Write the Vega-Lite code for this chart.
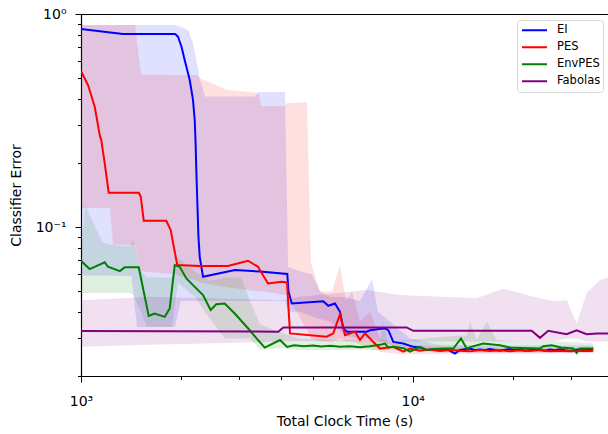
{
  "$schema": "https://vega.github.io/schema/vega-lite/v6.json",
  "width": 527,
  "height": 362,
  "autosize": {"type": "none"},
  "padding": {"left": 81, "top": 14, "right": 0, "bottom": 58},
  "background": "white",
  "config": {
    "view": {"stroke": null},
    "font": "DejaVu Sans",
    "axis": {
      "grid": false,
      "domainColor": "black",
      "domainWidth": 1.2,
      "tickColor": "black",
      "tickWidth": 1,
      "labelFont": "DejaVu Sans",
      "labelFontSize": 14,
      "labelColor": "black",
      "labelFlush": false,
      "labelOverlap": false,
      "titleFont": "DejaVu Sans",
      "titleFontSize": 14,
      "titleFontWeight": "normal",
      "titleColor": "black"
    }
  },
  "datasets": {
    "runs": [
      {"method": "EI", "time": 1000, "error": 0.850},
      {"method": "EI", "time": 1338, "error": 0.806},
      {"method": "EI", "time": 1924, "error": 0.806},
      {"method": "EI", "time": 1961, "error": 0.782},
      {"method": "EI", "time": 2010, "error": 0.70},
      {"method": "EI", "time": 2054, "error": 0.608},
      {"method": "EI", "time": 2127, "error": 0.490},
      {"method": "EI", "time": 2176, "error": 0.395},
      {"method": "EI", "time": 2202, "error": 0.318},
      {"method": "EI", "time": 2214, "error": 0.256},
      {"method": "EI", "time": 2228, "error": 0.18},
      {"method": "EI", "time": 2243, "error": 0.13},
      {"method": "EI", "time": 2260, "error": 0.09},
      {"method": "EI", "time": 2280, "error": 0.0725},
      {"method": "EI", "time": 2333, "error": 0.0584},
      {"method": "EI", "time": 2912, "error": 0.0628},
      {"method": "EI", "time": 3464, "error": 0.0619},
      {"method": "EI", "time": 4187, "error": 0.0602},
      {"method": "EI", "time": 4222, "error": 0.050},
      {"method": "EI", "time": 4317, "error": 0.0438},
      {"method": "EI", "time": 5376, "error": 0.0449},
      {"method": "EI", "time": 5567, "error": 0.0427},
      {"method": "EI", "time": 5831, "error": 0.0438},
      {"method": "EI", "time": 6037, "error": 0.0400},
      {"method": "EI", "time": 6177, "error": 0.0335},
      {"method": "EI", "time": 6324, "error": 0.0323},
      {"method": "EI", "time": 7267, "error": 0.0323},
      {"method": "EI", "time": 7435, "error": 0.0328},
      {"method": "EI", "time": 8253, "error": 0.0335},
      {"method": "EI", "time": 8443, "error": 0.0328},
      {"method": "EI", "time": 8741, "error": 0.0289},
      {"method": "EI", "time": 9368, "error": 0.0284},
      {"method": "EI", "time": 10042, "error": 0.0274},
      {"method": "EI", "time": 10520, "error": 0.0272},
      {"method": "EI", "time": 11022, "error": 0.0265},
      {"method": "EI", "time": 11600, "error": 0.0268},
      {"method": "EI", "time": 12086, "error": 0.0264},
      {"method": "EI", "time": 12700, "error": 0.0267},
      {"method": "EI", "time": 13412, "error": 0.0255},
      {"method": "EI", "time": 13886, "error": 0.0265},
      {"method": "EI", "time": 14884, "error": 0.0269},
      {"method": "EI", "time": 15400, "error": 0.0264},
      {"method": "EI", "time": 15954, "error": 0.0266},
      {"method": "EI", "time": 16500, "error": 0.0264},
      {"method": "EI", "time": 17101, "error": 0.0268},
      {"method": "EI", "time": 17700, "error": 0.0265},
      {"method": "EI", "time": 18330, "error": 0.0263},
      {"method": "EI", "time": 19000, "error": 0.0266},
      {"method": "EI", "time": 19647, "error": 0.0268},
      {"method": "EI", "time": 20300, "error": 0.0264},
      {"method": "EI", "time": 21059, "error": 0.0266},
      {"method": "EI", "time": 21800, "error": 0.0263},
      {"method": "EI", "time": 22573, "error": 0.0265},
      {"method": "EI", "time": 23400, "error": 0.0268},
      {"method": "EI", "time": 24195, "error": 0.0265},
      {"method": "EI", "time": 25000, "error": 0.0263},
      {"method": "EI", "time": 25934, "error": 0.0266},
      {"method": "EI", "time": 26800, "error": 0.0264},
      {"method": "EI", "time": 27798, "error": 0.0267},
      {"method": "EI", "time": 28800, "error": 0.0264},
      {"method": "EI", "time": 29796, "error": 0.0262},
      {"method": "EI", "time": 30800, "error": 0.0265},
      {"method": "EI", "time": 31937, "error": 0.0267},
      {"method": "EI", "time": 33000, "error": 0.0264},
      {"method": "EI", "time": 34233, "error": 0.0266},
      {"method": "EI", "time": 35025, "error": 0.0269},

      {"method": "PES", "time": 1000, "error": 0.540},
      {"method": "PES", "time": 1050, "error": 0.464},
      {"method": "PES", "time": 1100, "error": 0.367},
      {"method": "PES", "time": 1139, "error": 0.27},
      {"method": "PES", "time": 1151, "error": 0.256},
      {"method": "PES", "time": 1179, "error": 0.199},
      {"method": "PES", "time": 1212, "error": 0.145},
      {"method": "PES", "time": 1493, "error": 0.145},
      {"method": "PES", "time": 1514, "error": 0.139},
      {"method": "PES", "time": 1546, "error": 0.107},
      {"method": "PES", "time": 1808, "error": 0.107},
      {"method": "PES", "time": 1864, "error": 0.0968},
      {"method": "PES", "time": 1907, "error": 0.080},
      {"method": "PES", "time": 1951, "error": 0.0663},
      {"method": "PES", "time": 2280, "error": 0.0656},
      {"method": "PES", "time": 2774, "error": 0.0656},
      {"method": "PES", "time": 3188, "error": 0.0695},
      {"method": "PES", "time": 3417, "error": 0.0651},
      {"method": "PES", "time": 3662, "error": 0.0544},
      {"method": "PES", "time": 4029, "error": 0.0554},
      {"method": "PES", "time": 4179, "error": 0.0550},
      {"method": "PES", "time": 4267, "error": 0.0317},
      {"method": "PES", "time": 5505, "error": 0.0306},
      {"method": "PES", "time": 5764, "error": 0.0317},
      {"method": "PES", "time": 6037, "error": 0.0390},
      {"method": "PES", "time": 6250, "error": 0.0311},
      {"method": "PES", "time": 6700, "error": 0.0323},
      {"method": "PES", "time": 6936, "error": 0.0295},
      {"method": "PES", "time": 7182, "error": 0.0317},
      {"method": "PES", "time": 7609, "error": 0.0289},
      {"method": "PES", "time": 7969, "error": 0.0269},
      {"method": "PES", "time": 8741, "error": 0.0274},
      {"method": "PES", "time": 9368, "error": 0.0260},
      {"method": "PES", "time": 9814, "error": 0.0269},
      {"method": "PES", "time": 10520, "error": 0.0263},
      {"method": "PES", "time": 11276, "error": 0.0266},
      {"method": "PES", "time": 12086, "error": 0.0262},
      {"method": "PES", "time": 12955, "error": 0.0265},
      {"method": "PES", "time": 13886, "error": 0.0263},
      {"method": "PES", "time": 14884, "error": 0.0261},
      {"method": "PES", "time": 15954, "error": 0.0265},
      {"method": "PES", "time": 17101, "error": 0.0262},
      {"method": "PES", "time": 18330, "error": 0.0264},
      {"method": "PES", "time": 19647, "error": 0.0261},
      {"method": "PES", "time": 21059, "error": 0.0264},
      {"method": "PES", "time": 22573, "error": 0.0262},
      {"method": "PES", "time": 24195, "error": 0.0265},
      {"method": "PES", "time": 25934, "error": 0.0261},
      {"method": "PES", "time": 27798, "error": 0.0263},
      {"method": "PES", "time": 29796, "error": 0.0261},
      {"method": "PES", "time": 31937, "error": 0.0263},
      {"method": "PES", "time": 34233, "error": 0.0262},
      {"method": "PES", "time": 35025, "error": 0.0263},

      {"method": "EnvPES", "time": 1000, "error": 0.0695},
      {"method": "EnvPES", "time": 1062, "error": 0.0635},
      {"method": "EnvPES", "time": 1179, "error": 0.0683},
      {"method": "EnvPES", "time": 1206, "error": 0.0651},
      {"method": "EnvPES", "time": 1309, "error": 0.0621},
      {"method": "EnvPES", "time": 1354, "error": 0.0647},
      {"method": "EnvPES", "time": 1493, "error": 0.0647},
      {"method": "EnvPES", "time": 1600, "error": 0.0383},
      {"method": "EnvPES", "time": 1668, "error": 0.0393},
      {"method": "EnvPES", "time": 1788, "error": 0.0379},
      {"method": "EnvPES", "time": 1851, "error": 0.0415},
      {"method": "EnvPES", "time": 1917, "error": 0.0663},
      {"method": "EnvPES", "time": 1984, "error": 0.0651},
      {"method": "EnvPES", "time": 2078, "error": 0.0574},
      {"method": "EnvPES", "time": 2176, "error": 0.0534},
      {"method": "EnvPES", "time": 2333, "error": 0.0480},
      {"method": "EnvPES", "time": 2460, "error": 0.0408},
      {"method": "EnvPES", "time": 2558, "error": 0.0434},
      {"method": "EnvPES", "time": 2712, "error": 0.0438},
      {"method": "EnvPES", "time": 2907, "error": 0.0393},
      {"method": "EnvPES", "time": 3188, "error": 0.0335},
      {"method": "EnvPES", "time": 3417, "error": 0.0295},
      {"method": "EnvPES", "time": 3579, "error": 0.0272},
      {"method": "EnvPES", "time": 3981, "error": 0.0295},
      {"method": "EnvPES", "time": 4182, "error": 0.0274},
      {"method": "EnvPES", "time": 4394, "error": 0.0279},
      {"method": "EnvPES", "time": 4700, "error": 0.0276},
      {"method": "EnvPES", "time": 5000, "error": 0.0278},
      {"method": "EnvPES", "time": 5300, "error": 0.0275},
      {"method": "EnvPES", "time": 5650, "error": 0.0277},
      {"method": "EnvPES", "time": 6037, "error": 0.0274},
      {"method": "EnvPES", "time": 6471, "error": 0.0276},
      {"method": "EnvPES", "time": 6936, "error": 0.0273},
      {"method": "EnvPES", "time": 7435, "error": 0.0276},
      {"method": "EnvPES", "time": 7969, "error": 0.0280},
      {"method": "EnvPES", "time": 8253, "error": 0.0284},
      {"method": "EnvPES", "time": 8443, "error": 0.0272},
      {"method": "EnvPES", "time": 8741, "error": 0.0274},
      {"method": "EnvPES", "time": 9368, "error": 0.0270},
      {"method": "EnvPES", "time": 9814, "error": 0.0260},
      {"method": "EnvPES", "time": 10520, "error": 0.0274},
      {"method": "EnvPES", "time": 11022, "error": 0.0265},
      {"method": "EnvPES", "time": 11600, "error": 0.0268},
      {"method": "EnvPES", "time": 12500, "error": 0.0269},
      {"method": "EnvPES", "time": 13259, "error": 0.0269},
      {"method": "EnvPES", "time": 13983, "error": 0.0300},
      {"method": "EnvPES", "time": 14549, "error": 0.0269},
      {"method": "EnvPES", "time": 15000, "error": 0.0274},
      {"method": "EnvPES", "time": 16324, "error": 0.0284},
      {"method": "EnvPES", "time": 18330, "error": 0.0279},
      {"method": "EnvPES", "time": 19647, "error": 0.0272},
      {"method": "EnvPES", "time": 21059, "error": 0.0271},
      {"method": "EnvPES", "time": 22573, "error": 0.0270},
      {"method": "EnvPES", "time": 24195, "error": 0.0269},
      {"method": "EnvPES", "time": 24763, "error": 0.0276},
      {"method": "EnvPES", "time": 26244, "error": 0.0279},
      {"method": "EnvPES", "time": 28000, "error": 0.0272},
      {"method": "EnvPES", "time": 30497, "error": 0.0269},
      {"method": "EnvPES", "time": 31210, "error": 0.0257},
      {"method": "EnvPES", "time": 31937, "error": 0.0269},
      {"method": "EnvPES", "time": 35025, "error": 0.0269},

      {"method": "Fabolas", "time": 1000, "error": 0.0325},
      {"method": "Fabolas", "time": 3934, "error": 0.0323},
      {"method": "Fabolas", "time": 4073, "error": 0.0338},
      {"method": "Fabolas", "time": 9592, "error": 0.0338},
      {"method": "Fabolas", "time": 10042, "error": 0.0326},
      {"method": "Fabolas", "time": 22841, "error": 0.0326},
      {"method": "Fabolas", "time": 24195, "error": 0.0302},
      {"method": "Fabolas", "time": 25627, "error": 0.0326},
      {"method": "Fabolas", "time": 29118, "error": 0.0314},
      {"method": "Fabolas", "time": 31210, "error": 0.0328},
      {"method": "Fabolas", "time": 33457, "error": 0.0314},
      {"method": "Fabolas", "time": 35859, "error": 0.0317},
      {"method": "Fabolas", "time": 38801, "error": 0.0317}
    ],
    "spread": [
      {"method": "EI", "time": 1000, "lower": 0.0593, "upper": 0.888},
      {"method": "EI", "time": 1223, "lower": 0.0593, "upper": 0.888},
      {"method": "EI", "time": 1420, "lower": 0.059, "upper": 0.888},
      {"method": "EI", "time": 1475, "lower": 0.034, "upper": 0.888},
      {"method": "EI", "time": 1920, "lower": 0.034, "upper": 0.888},
      {"method": "EI", "time": 2000, "lower": 0.045, "upper": 0.87},
      {"method": "EI", "time": 2102, "lower": 0.045, "upper": 0.841},
      {"method": "EI", "time": 2176, "lower": 0.045, "upper": 0.731},
      {"method": "EI", "time": 2280, "lower": 0.045, "upper": 0.50},
      {"method": "EI", "time": 2365, "lower": 0.045, "upper": 0.41},
      {"method": "EI", "time": 3347, "lower": 0.045, "upper": 0.41},
      {"method": "EI", "time": 3430, "lower": 0.045, "upper": 0.43},
      {"method": "EI", "time": 4121, "lower": 0.045, "upper": 0.43},
      {"method": "EI", "time": 4213, "lower": 0.040, "upper": 0.065},
      {"method": "EI", "time": 4574, "lower": 0.040, "upper": 0.062},
      {"method": "EI", "time": 4970, "lower": 0.038, "upper": 0.060},
      {"method": "EI", "time": 5254, "lower": 0.037, "upper": 0.050},
      {"method": "EI", "time": 5632, "lower": 0.036, "upper": 0.047},
      {"method": "EI", "time": 6250, "lower": 0.031, "upper": 0.047},
      {"method": "EI", "time": 6936, "lower": 0.030, "upper": 0.045},
      {"method": "EI", "time": 7541, "lower": 0.030, "upper": 0.057},
      {"method": "EI", "time": 7861, "lower": 0.029, "upper": 0.040},
      {"method": "EI", "time": 8542, "lower": 0.028, "upper": 0.036},
      {"method": "EI", "time": 9814, "lower": 0.0265, "upper": 0.030},
      {"method": "EI", "time": 12000, "lower": 0.0258, "upper": 0.028},
      {"method": "EI", "time": 20000, "lower": 0.0257, "upper": 0.0278},
      {"method": "EI", "time": 35025, "lower": 0.0258, "upper": 0.0278},

      {"method": "PES", "time": 1000, "lower": 0.1228, "upper": 0.888},
      {"method": "PES", "time": 1223, "lower": 0.1228, "upper": 0.888},
      {"method": "PES", "time": 1249, "lower": 0.0823, "upper": 0.888},
      {"method": "PES", "time": 1455, "lower": 0.0823, "upper": 0.888},
      {"method": "PES", "time": 1517, "lower": 0.062, "upper": 0.52},
      {"method": "PES", "time": 1920, "lower": 0.060, "upper": 0.517},
      {"method": "PES", "time": 2237, "lower": 0.056, "upper": 0.517},
      {"method": "PES", "time": 2284, "lower": 0.055, "upper": 0.50},
      {"method": "PES", "time": 2774, "lower": 0.052, "upper": 0.44},
      {"method": "PES", "time": 3430, "lower": 0.050, "upper": 0.4256},
      {"method": "PES", "time": 3500, "lower": 0.050, "upper": 0.37},
      {"method": "PES", "time": 4121, "lower": 0.048, "upper": 0.37},
      {"method": "PES", "time": 4179, "lower": 0.048, "upper": 0.382},
      {"method": "PES", "time": 4801, "lower": 0.033, "upper": 0.385},
      {"method": "PES", "time": 4936, "lower": 0.030, "upper": 0.068},
      {"method": "PES", "time": 5254, "lower": 0.029, "upper": 0.050},
      {"method": "PES", "time": 5711, "lower": 0.029, "upper": 0.050},
      {"method": "PES", "time": 6037, "lower": 0.030, "upper": 0.066},
      {"method": "PES", "time": 6294, "lower": 0.029, "upper": 0.045},
      {"method": "PES", "time": 6561, "lower": 0.029, "upper": 0.050},
      {"method": "PES", "time": 6936, "lower": 0.028, "upper": 0.036},
      {"method": "PES", "time": 7435, "lower": 0.027, "upper": 0.040},
      {"method": "PES", "time": 7969, "lower": 0.026, "upper": 0.030},
      {"method": "PES", "time": 9156, "lower": 0.0253, "upper": 0.028},
      {"method": "PES", "time": 15000, "lower": 0.0254, "upper": 0.0272},
      {"method": "PES", "time": 35025, "lower": 0.0255, "upper": 0.0271},

      {"method": "EnvPES", "time": 1000, "lower": 0.049, "upper": 0.070},
      {"method": "EnvPES", "time": 1028, "lower": 0.049, "upper": 0.1269},
      {"method": "EnvPES", "time": 1115, "lower": 0.049, "upper": 0.0968},
      {"method": "EnvPES", "time": 1165, "lower": 0.049, "upper": 0.0843},
      {"method": "EnvPES", "time": 1266, "lower": 0.049, "upper": 0.082},
      {"method": "EnvPES", "time": 1405, "lower": 0.049, "upper": 0.081},
      {"method": "EnvPES", "time": 1438, "lower": 0.048, "upper": 0.087},
      {"method": "EnvPES", "time": 1517, "lower": 0.040, "upper": 0.062},
      {"method": "EnvPES", "time": 1581, "lower": 0.034, "upper": 0.058},
      {"method": "EnvPES", "time": 1880, "lower": 0.034, "upper": 0.058},
      {"method": "EnvPES", "time": 1960, "lower": 0.055, "upper": 0.072},
      {"method": "EnvPES", "time": 2206, "lower": 0.047, "upper": 0.062},
      {"method": "EnvPES", "time": 2448, "lower": 0.037, "upper": 0.056},
      {"method": "EnvPES", "time": 2718, "lower": 0.030, "upper": 0.058},
      {"method": "EnvPES", "time": 3036, "lower": 0.030, "upper": 0.058},
      {"method": "EnvPES", "time": 3232, "lower": 0.030, "upper": 0.045},
      {"method": "EnvPES", "time": 3464, "lower": 0.0265, "upper": 0.035},
      {"method": "EnvPES", "time": 3981, "lower": 0.027, "upper": 0.032},
      {"method": "EnvPES", "time": 4574, "lower": 0.0265, "upper": 0.030},
      {"method": "EnvPES", "time": 7969, "lower": 0.0265, "upper": 0.029},
      {"method": "EnvPES", "time": 8137, "lower": 0.0265, "upper": 0.036},
      {"method": "EnvPES", "time": 8424, "lower": 0.0265, "upper": 0.029},
      {"method": "EnvPES", "time": 13886, "lower": 0.0262, "upper": 0.031},
      {"method": "EnvPES", "time": 14549, "lower": 0.0262, "upper": 0.031},
      {"method": "EnvPES", "time": 14884, "lower": 0.0262, "upper": 0.036},
      {"method": "EnvPES", "time": 15596, "lower": 0.0262, "upper": 0.0295},
      {"method": "EnvPES", "time": 16720, "lower": 0.0262, "upper": 0.036},
      {"method": "EnvPES", "time": 17917, "lower": 0.0262, "upper": 0.0295},
      {"method": "EnvPES", "time": 21059, "lower": 0.0262, "upper": 0.029},
      {"method": "EnvPES", "time": 27798, "lower": 0.0262, "upper": 0.029},
      {"method": "EnvPES", "time": 35025, "lower": 0.0262, "upper": 0.0285},

      {"method": "Fabolas", "time": 1000, "lower": 0.0274, "upper": 0.0454},
      {"method": "Fabolas", "time": 1615, "lower": 0.0280, "upper": 0.0471},
      {"method": "Fabolas", "time": 3981, "lower": 0.0290, "upper": 0.0454},
      {"method": "Fabolas", "time": 4574, "lower": 0.0292, "upper": 0.0471},
      {"method": "Fabolas", "time": 7267, "lower": 0.029, "upper": 0.0506},
      {"method": "Fabolas", "time": 9156, "lower": 0.029, "upper": 0.048},
      {"method": "Fabolas", "time": 15596, "lower": 0.029, "upper": 0.0463},
      {"method": "Fabolas", "time": 18754, "lower": 0.029, "upper": 0.0515},
      {"method": "Fabolas", "time": 21059, "lower": 0.029, "upper": 0.049},
      {"method": "Fabolas", "time": 23096, "lower": 0.029, "upper": 0.0471},
      {"method": "Fabolas", "time": 26540, "lower": 0.029, "upper": 0.0449},
      {"method": "Fabolas", "time": 29118, "lower": 0.030, "upper": 0.0454},
      {"method": "Fabolas", "time": 31210, "lower": 0.030, "upper": 0.0353},
      {"method": "Fabolas", "time": 33457, "lower": 0.029, "upper": 0.049},
      {"method": "Fabolas", "time": 36694, "lower": 0.029, "upper": 0.0564},
      {"method": "Fabolas", "time": 38801, "lower": 0.029, "upper": 0.058}
    ]
  },
  "resolve": {
    "axis": {"x": "independent", "y": "independent"},
    "legend": {"color": "independent"}
  },
  "layer": [
    {
      "data": {"name": "spread"},
      "mark": {"type": "area", "fillOpacity": 0.12, "interpolate": "linear", "clip": true},
      "encoding": {
        "x": {
          "field": "time", "type": "quantitative",
          "scale": {"type": "log", "domain": [1000, 38801], "nice": false},
          "axis": {
            "orient": "bottom",
            "title": "Total Clock Time (s)",
            "values": [1000, 2000, 3000, 4000, 5000, 6000, 7000, 8000, 9000, 10000, 20000, 30000],
            "labelExpr": "datum.value == 1000 ? '10³' : (datum.value == 10000 ? '10⁴' : '')",
            "tickSize": {"condition": {"test": "datum.value == 1000 || datum.value == 10000", "value": 6}, "value": 3.5},
            "labelPadding": 12,
            "titlePadding": 6
          }
        },
        "y": {
          "field": "upper", "type": "quantitative",
          "scale": {"type": "log", "domain": [0.02, 1], "nice": false},
          "axis": {
            "orient": "left",
            "title": "Classifier Error",
            "values": [0.02, 0.03, 0.04, 0.05, 0.06, 0.07, 0.08, 0.09, 0.1, 0.2, 0.3, 0.4, 0.5, 0.6, 0.7, 0.8, 0.9, 1],
            "labelExpr": "abs(datum.value - 1) < 1e-9 ? '10⁰' : (abs(datum.value - 0.1) < 1e-9 ? '10⁻¹' : '')",
            "tickSize": {"condition": {"test": "abs(datum.value - 1) < 1e-9 || abs(datum.value - 0.1) < 1e-9", "value": 6}, "value": 3.5},
            "labelPadding": 9,
            "titlePadding": 12
          }
        },
        "y2": {"field": "lower"},
        "color": {
          "field": "method", "type": "nominal",
          "scale": {"domain": ["EI", "PES", "EnvPES", "Fabolas"], "range": ["#0000ff", "#ff0000", "#008000", "#800080"]},
          "legend": null
        }
      }
    },
    {
      "data": {"name": "runs"},
      "mark": {"type": "line", "strokeWidth": 2, "interpolate": "linear", "clip": true},
      "encoding": {
        "x": {
          "field": "time", "type": "quantitative",
          "axis": {"orient": "top", "title": null, "labels": false, "ticks": false, "domainColor": "black", "domainWidth": 1.2}
        },
        "y": {"field": "error", "type": "quantitative", "axis": null},
        "color": {
          "field": "method", "type": "nominal",
          "legend": {
            "title": null,
            "orient": "none",
            "legendX": 436,
            "legendY": 6,
            "symbolType": "stroke",
            "symbolSize": 625,
            "symbolStrokeWidth": 2,
            "clipHeight": 16.5,
            "padding": 2,
            "symbolOffset": 2,
            "labelOffset": 9,
            "rowPadding": 0,
            "labelFont": "DejaVu Sans",
            "labelFontSize": 11.5,
            "labelColor": "black",
            "strokeColor": "#d6d6d6",
            "fillColor": "white",
            "cornerRadius": 3
          }
        }
      }
    }
  ]
}
